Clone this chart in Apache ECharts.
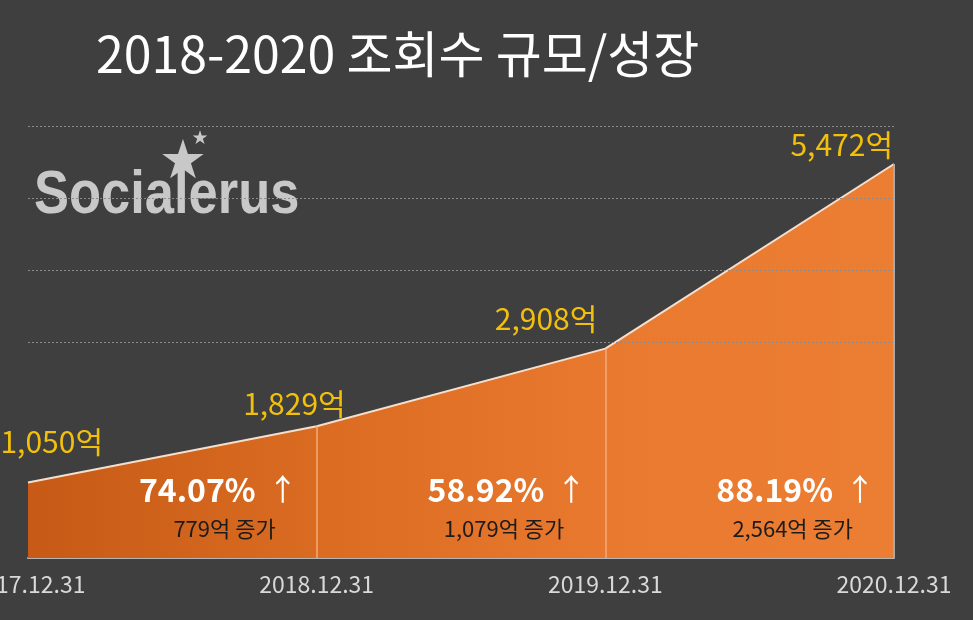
<!DOCTYPE html>
<html>
<head>
<meta charset="utf-8">
<script src="https://cdn.jsdelivr.net/npm/echarts@6/dist/echarts.min.js"></script>
<style>
  html, body { margin: 0; padding: 0; background: #3f3f3f; }
  #chart { width: 973px; height: 620px; }
</style>
</head>
<body>
<div id="chart"></div>
<script>
// 조회수 규모 (억)
const dates = ['2017.12.31', '2018.12.31', '2019.12.31', '2020.12.31']
const views = [1050, 1829, 2908, 5472]
// 구간별 성장률 / 증가량
const growthRates = ['74.07%', '58.92%', '88.19%']
const increases = [779, 1079, 2564]
const gridValues = [3000, 4000, 5000, 6000]

const FONT = 'Noto Sans CJK KR'
const fmt = v => v.toLocaleString('en-US')

const chart = echarts.init(document.getElementById('chart'))

// label offsets for each value label (dx, dy)
const labelOffsets = [[75, -41], [29, -23], [-8, -30], [-1, -19]]

const seriesData = views.map((v, i) => ({
  value: v,
  label: { offset: labelOffsets[i] }
}))

// 구간 경계선 (세로)
const dividers = []
for (let i = 1; i < dates.length; i++) {
  const last = i === dates.length - 1
  dividers.push([
    { coord: [dates[i], 0], lineStyle: last ? { color: '#a9a9a9', width: 2, type: 'solid' } : undefined },
    { coord: [dates[i], views[i]] }
  ])
}

// 성장률 / 증가량 표시
const notes = []
growthRates.forEach((r, i) => {
  notes.push({
    coord: [dates[i + 1], 0],
    label: {
      formatter: '{p|' + r + '}{a|↑}',
      offset: [-19, -68]
    }
  })
  notes.push({
    coord: [dates[i + 1], 0],
    label: {
      formatter: '{s|' + fmt(increases[i]) + '억 증가}',
      offset: [-41, -29]
    }
  })
})

const option = {
  backgroundColor: '#3f3f3f',
  animation: false,
  title: {
    text: '2018-2020 조회수 규모/성장',
    left: 91,
    top: 24,
    textStyle: {
      color: '#ffffff',
      fontSize: 50,
      fontWeight: 'normal',
      fontFamily: FONT
    }
  },
  graphic: [
    {
      type: 'text',
      x: 34,
      y: 166,
      scaleX: 0.86,
      z: 0,
      style: {
        text: 'Socialerus',
        fill: '#c8c8c8',
        font: 'bold 61px "Liberation Sans", Arial, sans-serif'
      }
    },
    {
      type: 'text',
      x: 183,
      y: 164,
      z: 0,
      style: {
        text: '★',
        fill: '#c8c8c8',
        align: 'center',
        verticalAlign: 'middle',
        font: '54px "DejaVu Sans"'
      }
    },
    {
      type: 'text',
      x: 200,
      y: 139,
      z: 0,
      style: {
        text: '★',
        fill: '#c8c8c8',
        align: 'center',
        verticalAlign: 'middle',
        font: '19px "DejaVu Sans"'
      }
    }
  ],
  grid: {
    left: 28,
    right: 79,
    top: 126,
    bottom: 62,
    containLabel: false,
    outerBoundsMode: 'none'
  },
  xAxis: {
    type: 'category',
    boundaryGap: false,
    data: dates,
    axisLine: { lineStyle: { color: '#b5b5b5', width: 2 } },
    axisTick: { show: false },
    axisLabel: {
      color: '#d9d9d9',
      fontSize: 23,
      fontFamily: FONT,
      margin: 15,
      showMinLabel: true,
      showMaxLabel: true
    }
  },
  yAxis: {
    type: 'value',
    min: 0,
    max: 6000,
    interval: 1000,
    axisLine: { show: false },
    axisTick: { show: false },
    axisLabel: { show: false },
    splitLine: { show: false }
  },
  series: [
    {
      // 배경 점선
      type: 'line',
      data: [],
      z: 1,
      silent: true,
      markLine: {
        symbol: 'none',
        silent: true,
        label: { show: false },
        lineStyle: { color: '#8c8c8c', type: [2, 2], width: 1 },
        data: gridValues.map(v => ({ yAxis: v }))
      }
    },
    {
      name: '조회수',
      type: 'line',
      z: 3,
      data: seriesData,
      symbol: 'circle',
      symbolSize: 0,
      showSymbol: true,
      lineStyle: { color: '#f4dfcf', width: 2 },
      itemStyle: { color: '#f4dfcf' },
      areaStyle: {
        opacity: 1,
        color: new echarts.graphic.LinearGradient(0, 0, 1, 0, [
          { offset: 0, color: '#c65a16' },
          { offset: 0.35, color: '#db6c22' },
          { offset: 0.7, color: '#e97a30' },
          { offset: 1, color: '#ec7e33' }
        ])
      },
      label: {
        show: true,
        position: 'left',
        distance: 0,
        color: '#f2c00c',
        fontSize: 30,
        fontFamily: FONT,
        formatter: p => fmt(p.value) + '억'
      },
      markLine: {
        symbol: 'none',
        silent: true,
        label: { show: false },
        lineStyle: { color: '#f3aa7c', width: 1.5, type: 'solid' },
        data: dividers
      },
      markPoint: {
        symbol: 'circle',
        symbolSize: 0,
        silent: true,
        label: {
          show: true,
          position: 'inside',
          align: 'right',
          verticalAlign: 'middle',
          rich: {
            p: { color: '#ffffff', fontSize: 32, fontWeight: 'bold', fontFamily: FONT },
            a: { color: '#ffffff', fontSize: 30, fontFamily: FONT, padding: [0, 0, 2, 12] },
            s: { color: '#1c1c1c', fontSize: 22, fontFamily: FONT }
          }
        },
        data: notes
      }
    }
  ]
}

chart.setOption(option)
</script>
</body>
</html>
